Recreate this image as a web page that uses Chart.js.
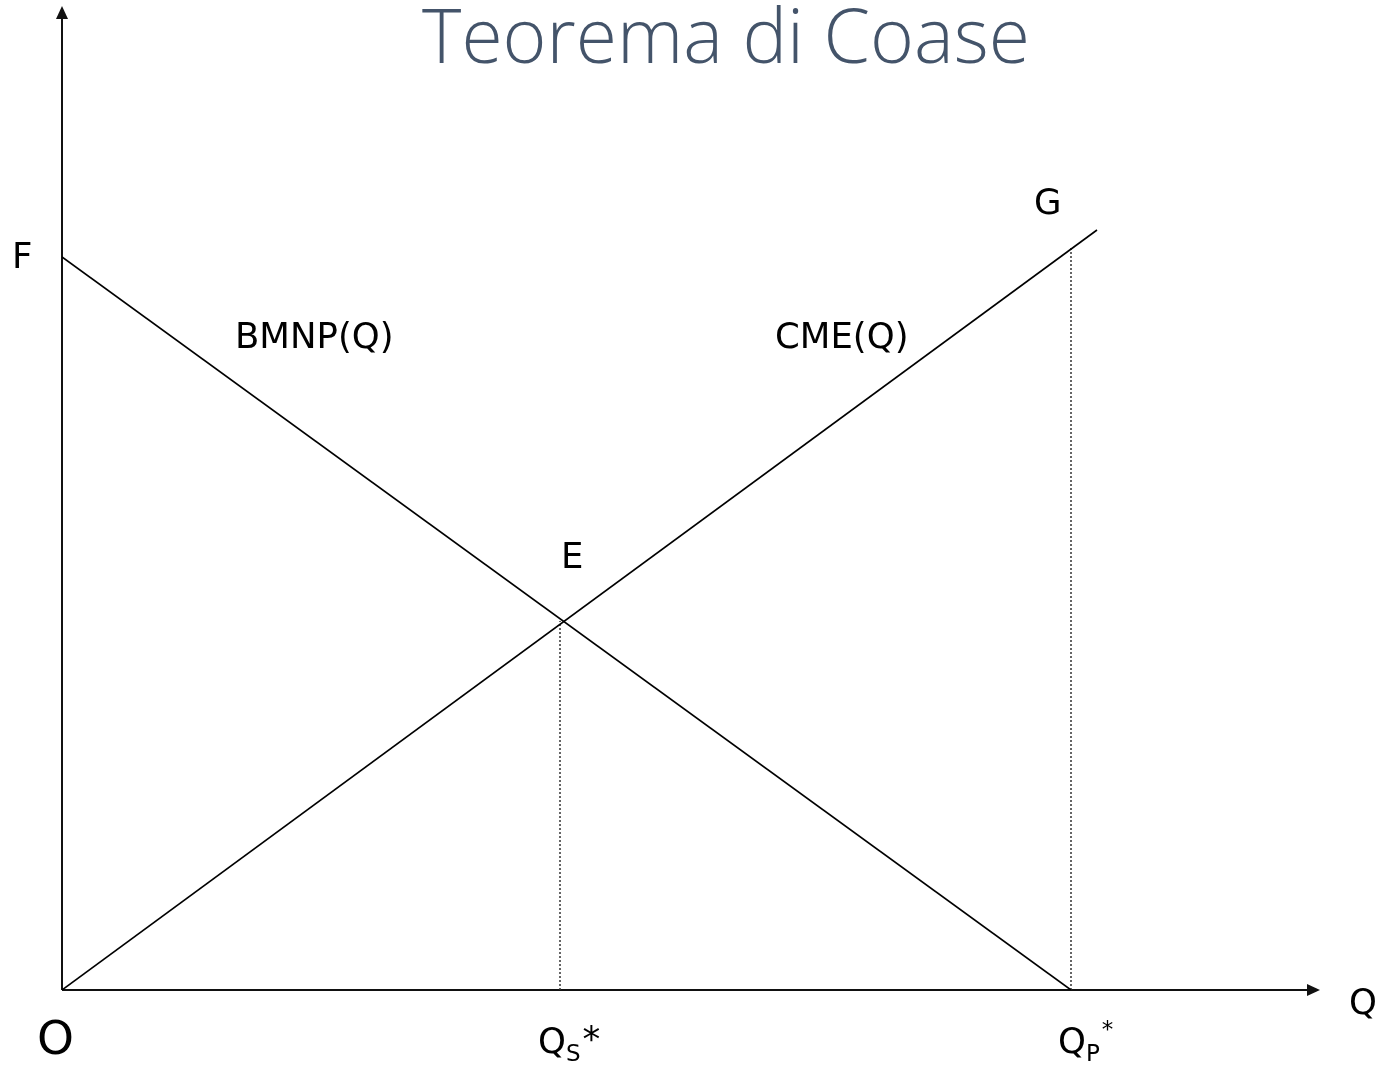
<!DOCTYPE html>
<html>
<head>
<meta charset="utf-8">
<script src="https://cdn.jsdelivr.net/npm/chart.js@4"></script>
<style>
  body { margin: 0; background: #fff; }
  #wrap { width: 1381px; height: 1067px; position: relative; }
</style>
</head>
<body>
<div id="wrap"><canvas id="myChart"></canvas></div>
<script>
// values (1 unit = 10 px)
const bmnp = [{ x: 0, y: 73.3 }, { x: 100.9, y: 0 }];
const cme = [{ x: 0, y: 0 }, { x: 103.5, y: 76.0 }];
const qsLine = [{ x: 49.8, y: 0 }, { x: 49.8, y: 36.9 }];
const qpLine = [{ x: 100.9, y: 0 }, { x: 100.9, y: 74.4 }];
const axisMax = { x: 125.8, y: 98.4 };

const LABEL_FONT = '35.5px "DejaVu Sans", Verdana, sans-serif';
const SUB_FONT = '23px "DejaVu Sans", sans-serif';

function txt(ctx, s, x, y, font) {
  ctx.font = font || LABEL_FONT;
  ctx.fillText(s, x, y);
  return ctx.measureText(s).width;
}

const axesAndLabels = {
  id: 'axesAndLabels',
  beforeDatasetsDraw(chart) {
    const ctx = chart.ctx;
    const xs = chart.scales.x, ys = chart.scales.y;
    const x0 = xs.getPixelForValue(0), y0 = ys.getPixelForValue(0);
    const xEnd = xs.getPixelForValue(axisMax.x), yEnd = ys.getPixelForValue(axisMax.y);
    ctx.save();
    ctx.strokeStyle = '#111';
    ctx.fillStyle = '#111';
    ctx.lineWidth = 2;
    ctx.beginPath();
    ctx.moveTo(x0, y0); ctx.lineTo(xEnd - 12, y0);
    ctx.moveTo(x0, y0); ctx.lineTo(x0, yEnd + 12);
    ctx.stroke();
    // arrow heads
    ctx.beginPath();
    ctx.moveTo(xEnd, y0); ctx.lineTo(xEnd - 13, y0 - 6); ctx.lineTo(xEnd - 13, y0 + 6);
    ctx.closePath(); ctx.fill();
    ctx.beginPath();
    ctx.moveTo(x0, yEnd); ctx.lineTo(x0 - 6, yEnd + 13); ctx.lineTo(x0 + 6, yEnd + 13);
    ctx.closePath(); ctx.fill();
    ctx.restore();
  },
  afterDraw(chart) {
    const ctx = chart.ctx;
    const xs = chart.scales.x, ys = chart.scales.y;
    const px = v => xs.getPixelForValue(v), py = v => ys.getPixelForValue(v);
    ctx.save();
    ctx.textBaseline = 'alphabetic';

    // title
    ctx.fillStyle = '#44546A';
    ctx.textAlign = 'center';
    txt(ctx, 'Teorema di Coase', 726, 63, '300 75px "Open Sans", sans-serif');

    ctx.fillStyle = '#000';
    ctx.textAlign = 'left';
    txt(ctx, 'F', 12, py(bmnp[0].y) + 11);
    txt(ctx, 'BMNP(Q)', 235, 348);
    txt(ctx, 'CME(Q)', 775, 348);
    txt(ctx, 'E', px(qsLine[0].x) + 1, 568);
    txt(ctx, 'G', 1034, 214);
    txt(ctx, 'Q', 1349, 1014);
    txt(ctx, 'O', 37, 1054, '47px "DejaVu Sans", sans-serif');

    // Q_S*
    let x = 538, base = 1053;
    x += txt(ctx, 'Q', x, base);
    x += txt(ctx, 'S', x, base + 8, SUB_FONT);
    txt(ctx, '*', x + 2, base - 2);

    // Q_P*
    x = 1058;
    x += txt(ctx, 'Q', x, base);
    x += txt(ctx, 'P', x, base + 8, SUB_FONT);
    txt(ctx, '*', x + 2, base - 16, SUB_FONT);
    ctx.restore();
  }
};

const solid = { borderColor: '#000', borderWidth: 1.6, pointRadius: 0, showLine: true, fill: false };
const dotted = { borderColor: '#333', borderWidth: 1.5, borderDash: [2, 2], pointRadius: 0, showLine: true, fill: false };

new Chart(document.getElementById('myChart'), {
  type: 'scatter',
  data: {
    datasets: [
      { label: 'BMNP(Q)', data: bmnp, ...solid },
      { label: 'CME(Q)', data: cme, ...solid },
      { label: 'Qs*', data: qsLine, ...dotted },
      { label: 'Qp*', data: qpLine, ...dotted }
    ]
  },
  options: {
    responsive: true,
    maintainAspectRatio: false,
    animation: false,
    layout: { padding: { left: 62, right: 1381 - 62 - 1258, top: 6, bottom: 77 } },
    scales: {
      x: { type: 'linear', min: 0, max: axisMax.x, display: false },
      y: { type: 'linear', min: 0, max: axisMax.y, display: false }
    },
    plugins: {
      legend: { display: false },
      tooltip: { enabled: false },
      title: { display: false }
    }
  },
  plugins: [axesAndLabels]
});
</script>
</body>
</html>
